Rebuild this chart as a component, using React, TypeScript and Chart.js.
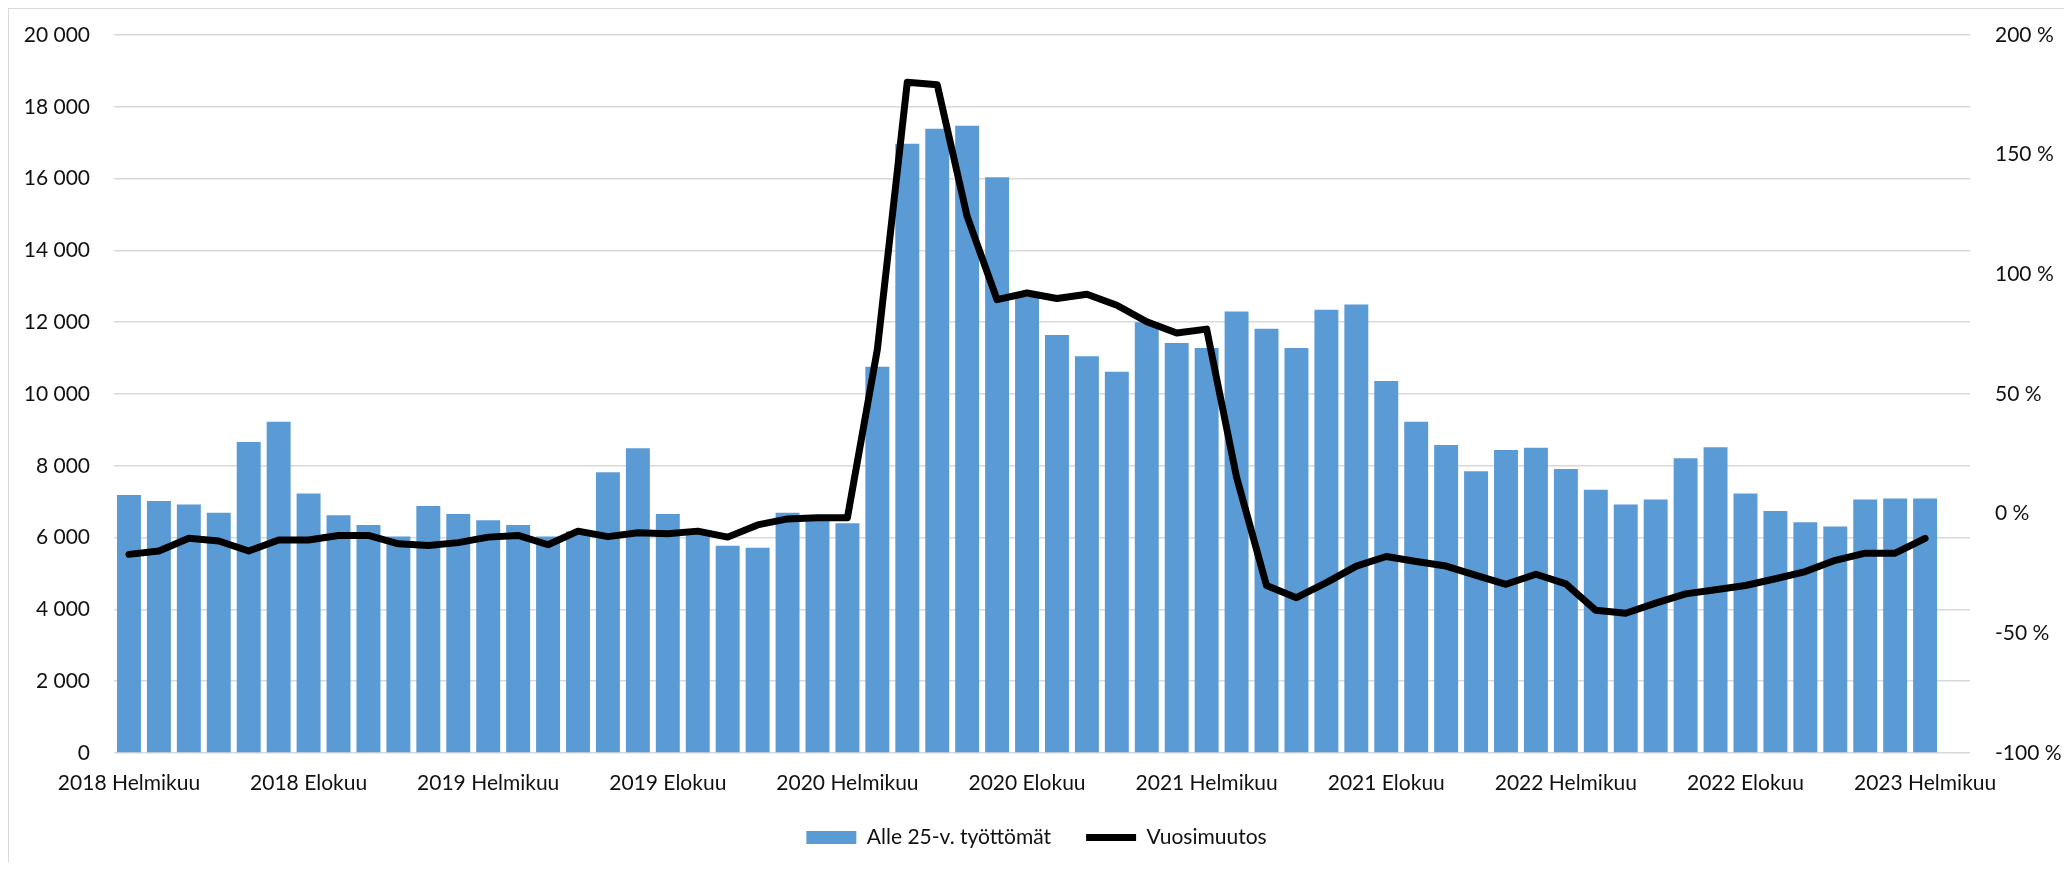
import React, { useEffect, useRef } from "react";
import { Chart, registerables } from "chart.js";

Chart.register(...registerables);

const monthNames = [
  "Tammikuu", "Helmikuu", "Maaliskuu", "Huhtikuu", "Toukokuu", "Kesäkuu",
  "Heinäkuu", "Elokuu", "Syyskuu", "Lokakuu", "Marraskuu", "Joulukuu",
];
const years = [2018, 2019, 2020, 2021, 2022, 2023];

// Helmikuu 2018 ... Maaliskuu 2023 (last category has no data)
const categories: string[] = [];
for (const y of years) {
  for (let m = 0; m < 12; m++) {
    if (y === 2018 && m < 1) continue;
    if (y === 2023 && m > 2) continue;
    categories.push(`${y} ${monthNames[m]}`);
  }
}

const unemployedUnder25 = [
  7190, 7020, 6920, 6690, 8660, 9230, 7230, 6620, 6350, 6030, 6880, 6660,
  6480, 6350, 6030, 6180, 7820, 8490, 6660, 6150, 5770, 5720, 6690, 6550,
  6400, 10760, 16970, 17390, 17470, 16040, 12700, 11640, 11050, 10620, 12000, 11420,
  11280, 12300, 11820, 11280, 12350, 12490, 10360, 9230, 8580, 7850, 8440, 8500,
  7910, 7330, 6920, 7060, 8210, 8520, 7230, 6740, 6430, 6310, 7060, 7090,
  7090, null,
];

const yearlyChange = [
  -17, -15.6, -10.3, -11.4, -15.6, -11, -11, -9.1, -9.1, -12.6, -13.3, -12.1,
  -9.8, -9.1, -13, -7.3, -9.6, -8, -8.4, -7.3, -9.8, -4.7, -2.2, -1.7,
  -1.7, 68.6, 180.3, 179.2, 124.2, 89.4, 92.2, 89.9, 91.7, 87.1, 80.2, 75.5,
  77.1, 15.2, -30, -35.1, -28.8, -21.9, -17.9, -20, -21.9, -25.8, -29.5, -25.3,
  -29.3, -40.4, -41.6, -37.4, -33.5, -31.8, -30, -27.2, -24.2, -19.5, -16.5, -16.5,
  -10.3, null,
];

const leftTicks = { min: 0, max: 20000, step: 2000 };
const rightTicks = { min: -100, max: 200, step: 50 };

const FONT = { family: "Lato", size: 21 };
const TEXT = "#111111";
const GRID = "#d9d9d9";

export default function App() {
  const ref = useRef<HTMLCanvasElement | null>(null);

  useEffect(() => {
    if (!ref.current) return;
    const chart = new Chart(ref.current, {
      type: "bar",
      data: {
        labels: categories,
        datasets: [
          {
            type: "bar",
            label: "Alle 25-v. työttömät",
            data: unemployedUnder25,
            backgroundColor: "#5b9bd5",
            borderWidth: 0,
            categoryPercentage: 1,
            barPercentage: 0.8,
            yAxisID: "y",
            order: 1,
            pointStyle: "rect",
          } as any,
          {
            type: "line",
            label: "Vuosimuutos",
            data: yearlyChange,
            borderColor: "#000000",
            backgroundColor: "#000000",
            borderWidth: 7,
            borderCapStyle: "round",
            borderJoinStyle: "round",
            pointRadius: 0,
            tension: 0,
            yAxisID: "y1",
            order: 0,
            pointStyle: "line",
          } as any,
        ],
      },
      options: {
        animation: false,
        responsive: true,
        maintainAspectRatio: false,
        layout: { padding: { top: 26, left: 0, right: 0, bottom: 4 } },
        plugins: {
          tooltip: { enabled: false },
          legend: {
            position: "bottom",
            labels: {
              font: FONT,
              color: TEXT,
              usePointStyle: true,
              pointStyleWidth: 50,
              boxHeight: 13,
              padding: 35,
              sort: (a: any, b: any) => a.datasetIndex - b.datasetIndex,
            },
          },
        },
        scales: {
          x: {
            offset: true,
            grid: { display: false, drawTicks: false },
            border: { display: false },
            ticks: {
              font: FONT,
              color: TEXT,
              autoSkip: false,
              maxRotation: 0,
              minRotation: 0,
              padding: 18,
              callback: (_v: any, i: number) => (i % 6 === 0 ? categories[i] : ""),
            },
            afterFit: (s: any) => {
              s.height = 39;
            },
          },
          y: {
            position: "left",
            min: leftTicks.min,
            max: leftTicks.max,
            grid: {
              color: GRID,
              lineWidth: 1.5,
              drawTicks: true,
              tickLength: 24,
              tickColor: "rgba(0,0,0,0)",
            },
            border: { display: false },
            ticks: {
              stepSize: leftTicks.step,
              font: FONT,
              color: TEXT,
              padding: 0,
              callback: (v: any) =>
                String(v).replace(/\B(?=(\d{3})+(?!\d))/g, " "),
            },
            afterFit: (s: any) => {
              s.width = 105;
            },
          },
          y1: {
            position: "right",
            min: rightTicks.min,
            max: rightTicks.max,
            grid: {
              display: true,
              drawOnChartArea: false,
              drawTicks: true,
              tickLength: 25,
              tickColor: "rgba(0,0,0,0)",
            },
            border: { display: false },
            ticks: {
              stepSize: rightTicks.step,
              font: FONT,
              color: TEXT,
              padding: 0,
              callback: (v: any) => `${v} %`,
            },
            afterFit: (s: any) => {
              s.width = 94;
            },
          },
        },
      },
    });
    return () => chart.destroy();
  }, []);

  return (
    <div
      style={{
        width: 2055,
        height: 853,
        borderLeft: `1px solid ${GRID}`,
        borderTop: `1px solid ${GRID}`,
        position: "relative",
        background: "#fff",
      }}
    >
      <canvas ref={ref} />
    </div>
  );
}
